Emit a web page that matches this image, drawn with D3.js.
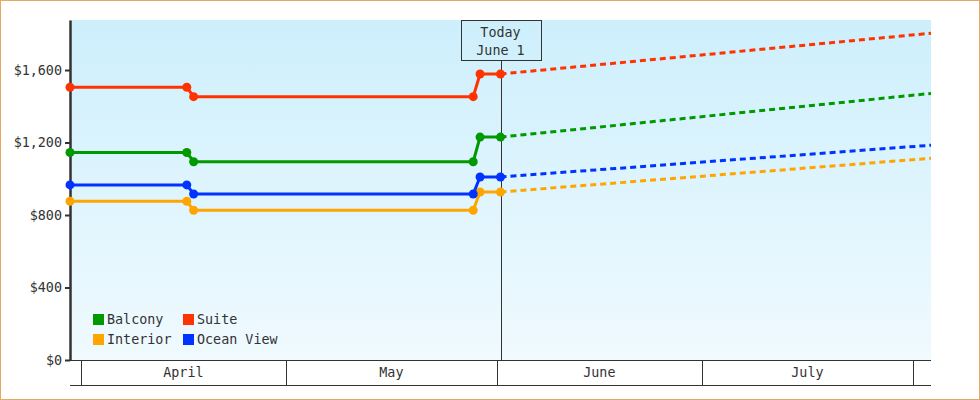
<!DOCTYPE html>
<html lang="en">
  <head>
    <meta charset="UTF-8" />
    <title>Cabin Prices</title>
    <style>
      body { margin: 0; background: #fff; }
      text { font-family: "DejaVu Sans Mono", monospace; font-size: 13.4px; fill: #333; }
      .axis path, .axis line { stroke: #333; }
      .priceLine { fill: none; stroke-width: 3px; }
      .projLine { fill: none; stroke-width: 3px; stroke-dasharray: 6,4; }
    </style>
  </head>
  <body>
    <script src="https://cdn.jsdelivr.net/npm/d3@7"></script>
    <script>
    // data
    var categories = ["Balcony", "Suite", "Interior", "Ocean View"];
    var colors = ["#009900", "#ff3300", "#ffa500", "#0033ff"];
    var priceDates = ["2024-03-30T09:00", "2024-04-16T12:00", "2024-04-17T12:00",
                      "2024-05-28T12:00", "2024-05-29T12:00", "2024-06-01T12:00"];
    var projDates = ["2024-06-01T12:00", "2024-08-03T15:00"];
    var balcony = [1145, 1145, 1094, 1094, 1230, 1230];
    var suite = [1505, 1505, 1453, 1453, 1578, 1578];
    var interior = [876, 876, 826, 826, 927, 927];
    var oceanView = [966, 966, 916, 916, 1010, 1010];
    var balconyProj = [1230, 1471];
    var suiteProj = [1578, 1803];
    var interiorProj = [927, 1113];
    var oceanViewProj = [1010, 1185];
    var yTicks = [0, 400, 800, 1200, 1600];
    var monthStarts = ["2024-04-01", "2024-05-01", "2024-06-01", "2024-07-01", "2024-08-01"];
    var monthNames = ["April", "May", "June", "July"];
    var todayDate = "2024-06-01T12:00";
    var todayLabel = ["Today", "June 1"];

    var parse = function(s) { return new Date(s + (s.length > 10 ? ":00Z" : "T00:00:00Z")); };
    var series = [balcony, suite, interior, oceanView];
    var proj = [balconyProj, suiteProj, interiorProj, oceanViewProj];

    var w = 980, h = 400;
    var margin = {top: 20, right: 49, bottom: 40, left: 70};

    var svg = d3.select("body").append("svg")
                .attr("width", w)
                .attr("height", h);

    var xScale = d3.scaleUtc()
                   .domain([parse(priceDates[0]), parse(projDates[1])])
                   .range([margin.left, w - margin.right]);
    var yScale = d3.scaleLinear()
                   .domain([0, 1876])
                   .range([h - margin.bottom, margin.top]);

    // background gradient
    var grad = svg.append("defs").append("linearGradient")
                  .attr("id", "bg").attr("x1", 0).attr("y1", 0).attr("x2", 0).attr("y2", 1);
    grad.append("stop").attr("offset", "0%").attr("stop-color", "#cdeffc");
    grad.append("stop").attr("offset", "100%").attr("stop-color", "#f0faff");

    svg.append("rect")
       .attr("x", margin.left)
       .attr("y", margin.top)
       .attr("width", w - margin.right - margin.left)
       .attr("height", h - margin.bottom - margin.top)
       .attr("fill", "url(#bg)");

    // outer border
    svg.append("rect")
       .attr("x", 0.5).attr("y", 0.5)
       .attr("width", w - 1).attr("height", h - 1)
       .attr("fill", "none")
       .attr("stroke", "#e8a860");

    // month band under plot
    var y0 = yScale(0);
    var bandBottom = y0 + 25;
    svg.append("line")
       .attr("x1", margin.left).attr("x2", w - margin.right)
       .attr("y1", y0 + 0.5).attr("y2", y0 + 0.5)
       .attr("stroke", "#333");
    svg.append("line")
       .attr("x1", margin.left).attr("x2", w - margin.right)
       .attr("y1", bandBottom + 0.5).attr("y2", bandBottom + 0.5)
       .attr("stroke", "#333");
    svg.selectAll(".monthSep")
       .data(monthStarts)
       .enter().append("line")
       .attr("x1", function(d) { return Math.round(xScale(parse(d))) + 0.5; })
       .attr("x2", function(d) { return Math.round(xScale(parse(d))) + 0.5; })
       .attr("y1", y0).attr("y2", bandBottom)
       .attr("stroke", "#333");
    svg.selectAll(".monthLabel")
       .data(monthNames)
       .enter().append("text")
       .attr("text-anchor", "middle")
       .attr("x", function(d, i) {
         return (xScale(parse(monthStarts[i])) + xScale(parse(monthStarts[i + 1]))) / 2;
       })
       .attr("y", y0 + 17)
       .text(function(d) { return d; });

    // y axis
    var yAxis = d3.axisLeft(yScale)
                  .tickValues(yTicks)
                  .tickSize(5)
                  .tickSizeOuter(0)
                  .tickPadding(3)
                  .tickFormat(d3.format("$,"));
    var ya = svg.append("g")
       .attr("class", "axis")
       .attr("transform", "translate(" + margin.left + ",0)")
       .call(yAxis);
    ya.select(".domain").attr("stroke-width", 2.5);
    ya.selectAll(".tick line").attr("stroke-width", 2);
    ya.selectAll("text").attr("font-size", 13.4).attr("font-family", "DejaVu Sans Mono").attr("fill", "#333");

    // today marker
    var tx = xScale(parse(todayDate));
    svg.append("line")
       .attr("x1", Math.round(tx) + 0.5).attr("x2", Math.round(tx) + 0.5)
       .attr("y1", margin.top + 40).attr("y2", y0)
       .attr("stroke", "#333");
    svg.append("rect")
       .attr("x", Math.round(tx) - 39.5).attr("y", margin.top + 0.5)
       .attr("width", 80).attr("height", 40)
       .attr("fill", "none")
       .attr("stroke", "#333");
    svg.selectAll(".todayText")
       .data(todayLabel)
       .enter().append("text")
       .attr("text-anchor", "middle")
       .attr("x", tx)
       .attr("y", function(d, i) { return margin.top + 17 + i * 18; })
       .text(function(d) { return d; });

    // lines
    var line = d3.line()
                 .x(function(d) { return xScale(d.date); })
                 .y(function(d) { return yScale(d.value); });

    categories.forEach(function(c, i) {
      var pts = priceDates.map(function(d, j) { return {date: parse(d), value: series[i][j]}; });
      var ppts = projDates.map(function(d, j) { return {date: parse(d), value: proj[i][j]}; });
      svg.append("path")
         .datum(ppts)
         .attr("class", "projLine")
         .attr("stroke", colors[i])
         .attr("d", line);
      svg.append("path")
         .datum(pts)
         .attr("class", "priceLine")
         .attr("stroke", colors[i])
         .attr("d", line);
      svg.selectAll(".pt" + i)
         .data(pts)
         .enter().append("circle")
         .attr("cx", function(d) { return xScale(d.date); })
         .attr("cy", function(d) { return yScale(d.value); })
         .attr("r", 4.5)
         .attr("fill", colors[i]);
    });

    // legend
    var legend = svg.append("g").attr("transform", "translate(93,314)");
    var items = legend.selectAll("g")
       .data(categories)
       .enter().append("g")
       .attr("transform", function(d, i) {
         return "translate(" + ((i % 2) * 90) + "," + (Math.floor(i / 2) * 20) + ")";
       });
    items.append("rect")
       .attr("width", 11).attr("height", 11)
       .attr("fill", function(d, i) { return colors[i]; });
    items.append("text")
       .attr("x", 14).attr("y", 10)
       .text(function(d) { return d; });
    </script>
  </body>
</html>
